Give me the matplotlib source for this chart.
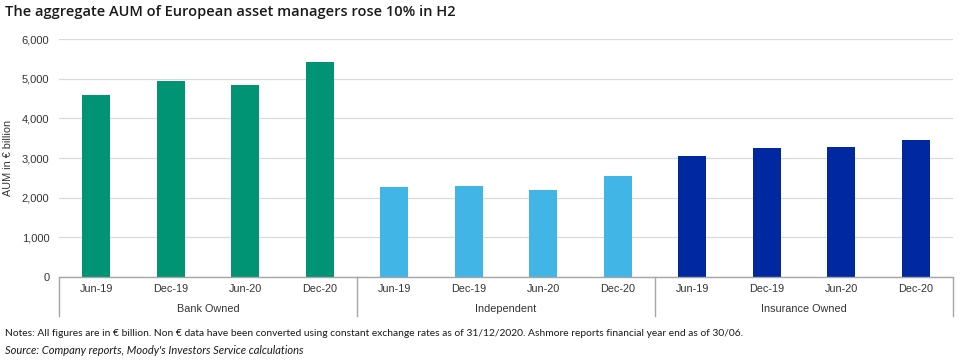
import matplotlib.pyplot as plt
from matplotlib.transforms import blended_transform_factory

groups = ['Bank Owned', 'Independent', 'Insurance Owned']
periods = ['Jun-19', 'Dec-19', 'Jun-20', 'Dec-20']
bank_owned = [4600, 4950, 4850, 5420]
independent = [2260, 2290, 2200, 2555]
insurance_owned = [3050, 3250, 3290, 3450]

colors = ['#009474', '#41B6E6', '#0028A0']

fig = plt.figure(figsize=(9.62, 3.63), dpi=100)
ax = fig.add_axes([59 / 962, 1 - 276.7 / 363, (953 - 59) / 962, (276.7 - 39.3) / 363])

series = [bank_owned, independent, insurance_owned]
for g, (vals, col) in enumerate(zip(series, colors)):
    xs = [g * len(periods) + i for i in range(len(periods))]
    ax.bar(xs, vals, width=0.37, color=col, zorder=3)

n = len(groups) * len(periods)
ax.set_xlim(-0.5, n - 0.5)
ax.set_ylim(0, 6000)
ax.set_yticks(range(0, 6001, 1000))
ax.set_yticklabels([f'{v:,}' for v in range(0, 6001, 1000)],
                   fontsize=8, family='Liberation Sans', color='#333333')
ax.tick_params(axis='y', length=0, pad=7)
ax.set_xticks([])
ax.yaxis.grid(color='#d9d9d9', linewidth=0.9, zorder=0)
for s in ['left', 'right', 'top']:
    ax.spines[s].set_visible(False)
ax.spines['bottom'].set_color('#a6a6a6')
ax.spines['bottom'].set_linewidth(1.0)
ax.spines['bottom'].set_zorder(4)

ax.set_ylabel('AUM in € billion', fontsize=7.8, family='Liberation Sans', color='#333333')
ax.yaxis.set_label_coords(-46 / 894, 0.5)

# category axis: period labels, group labels and separators
tr = blended_transform_factory(ax.transData, ax.transAxes)
for g, grp in enumerate(groups):
    for i, p in enumerate(periods):
        ax.text(g * len(periods) + i, -0.052, p, transform=tr, ha='center', va='center',
                fontsize=7.8, family='Liberation Sans', color='#333333')
    ax.text(g * len(periods) + (len(periods) - 1) / 2, -0.136, grp, transform=tr,
            ha='center', va='center', fontsize=7.8, family='Liberation Sans', color='#333333')
for g in range(len(groups) + 1):
    x = g * len(periods) - 0.5
    ax.plot([x, x], [0, -0.165], transform=tr, color='#a6a6a6', linewidth=1.0, clip_on=False)

fig.text(5 / 962, 1 - 12 / 363, 'The aggregate AUM of European asset managers rose 10% in H2',
         fontsize=10.5, fontweight='semibold', family='Open Sans', color='#1a1a1a',
         ha='left', va='center')
fig.text(5 / 962, 1 - 334 / 363,
         'Notes: All figures are in € billion. Non € data have been converted using constant '
         'exchange rates as of 31/12/2020. Ashmore reports financial year end as of 30/06.',
         fontsize=7.4, family='Lato', color='#1a1a1a', ha='left', va='center')
fig.text(5 / 962, 1 - 350 / 363, "Source: Company reports, Moody's Investors Service calculations",
         fontsize=8.0, family='Lato', style='italic', color='#1a1a1a', ha='left', va='center')

fig.savefig('out.png', dpi=100)
